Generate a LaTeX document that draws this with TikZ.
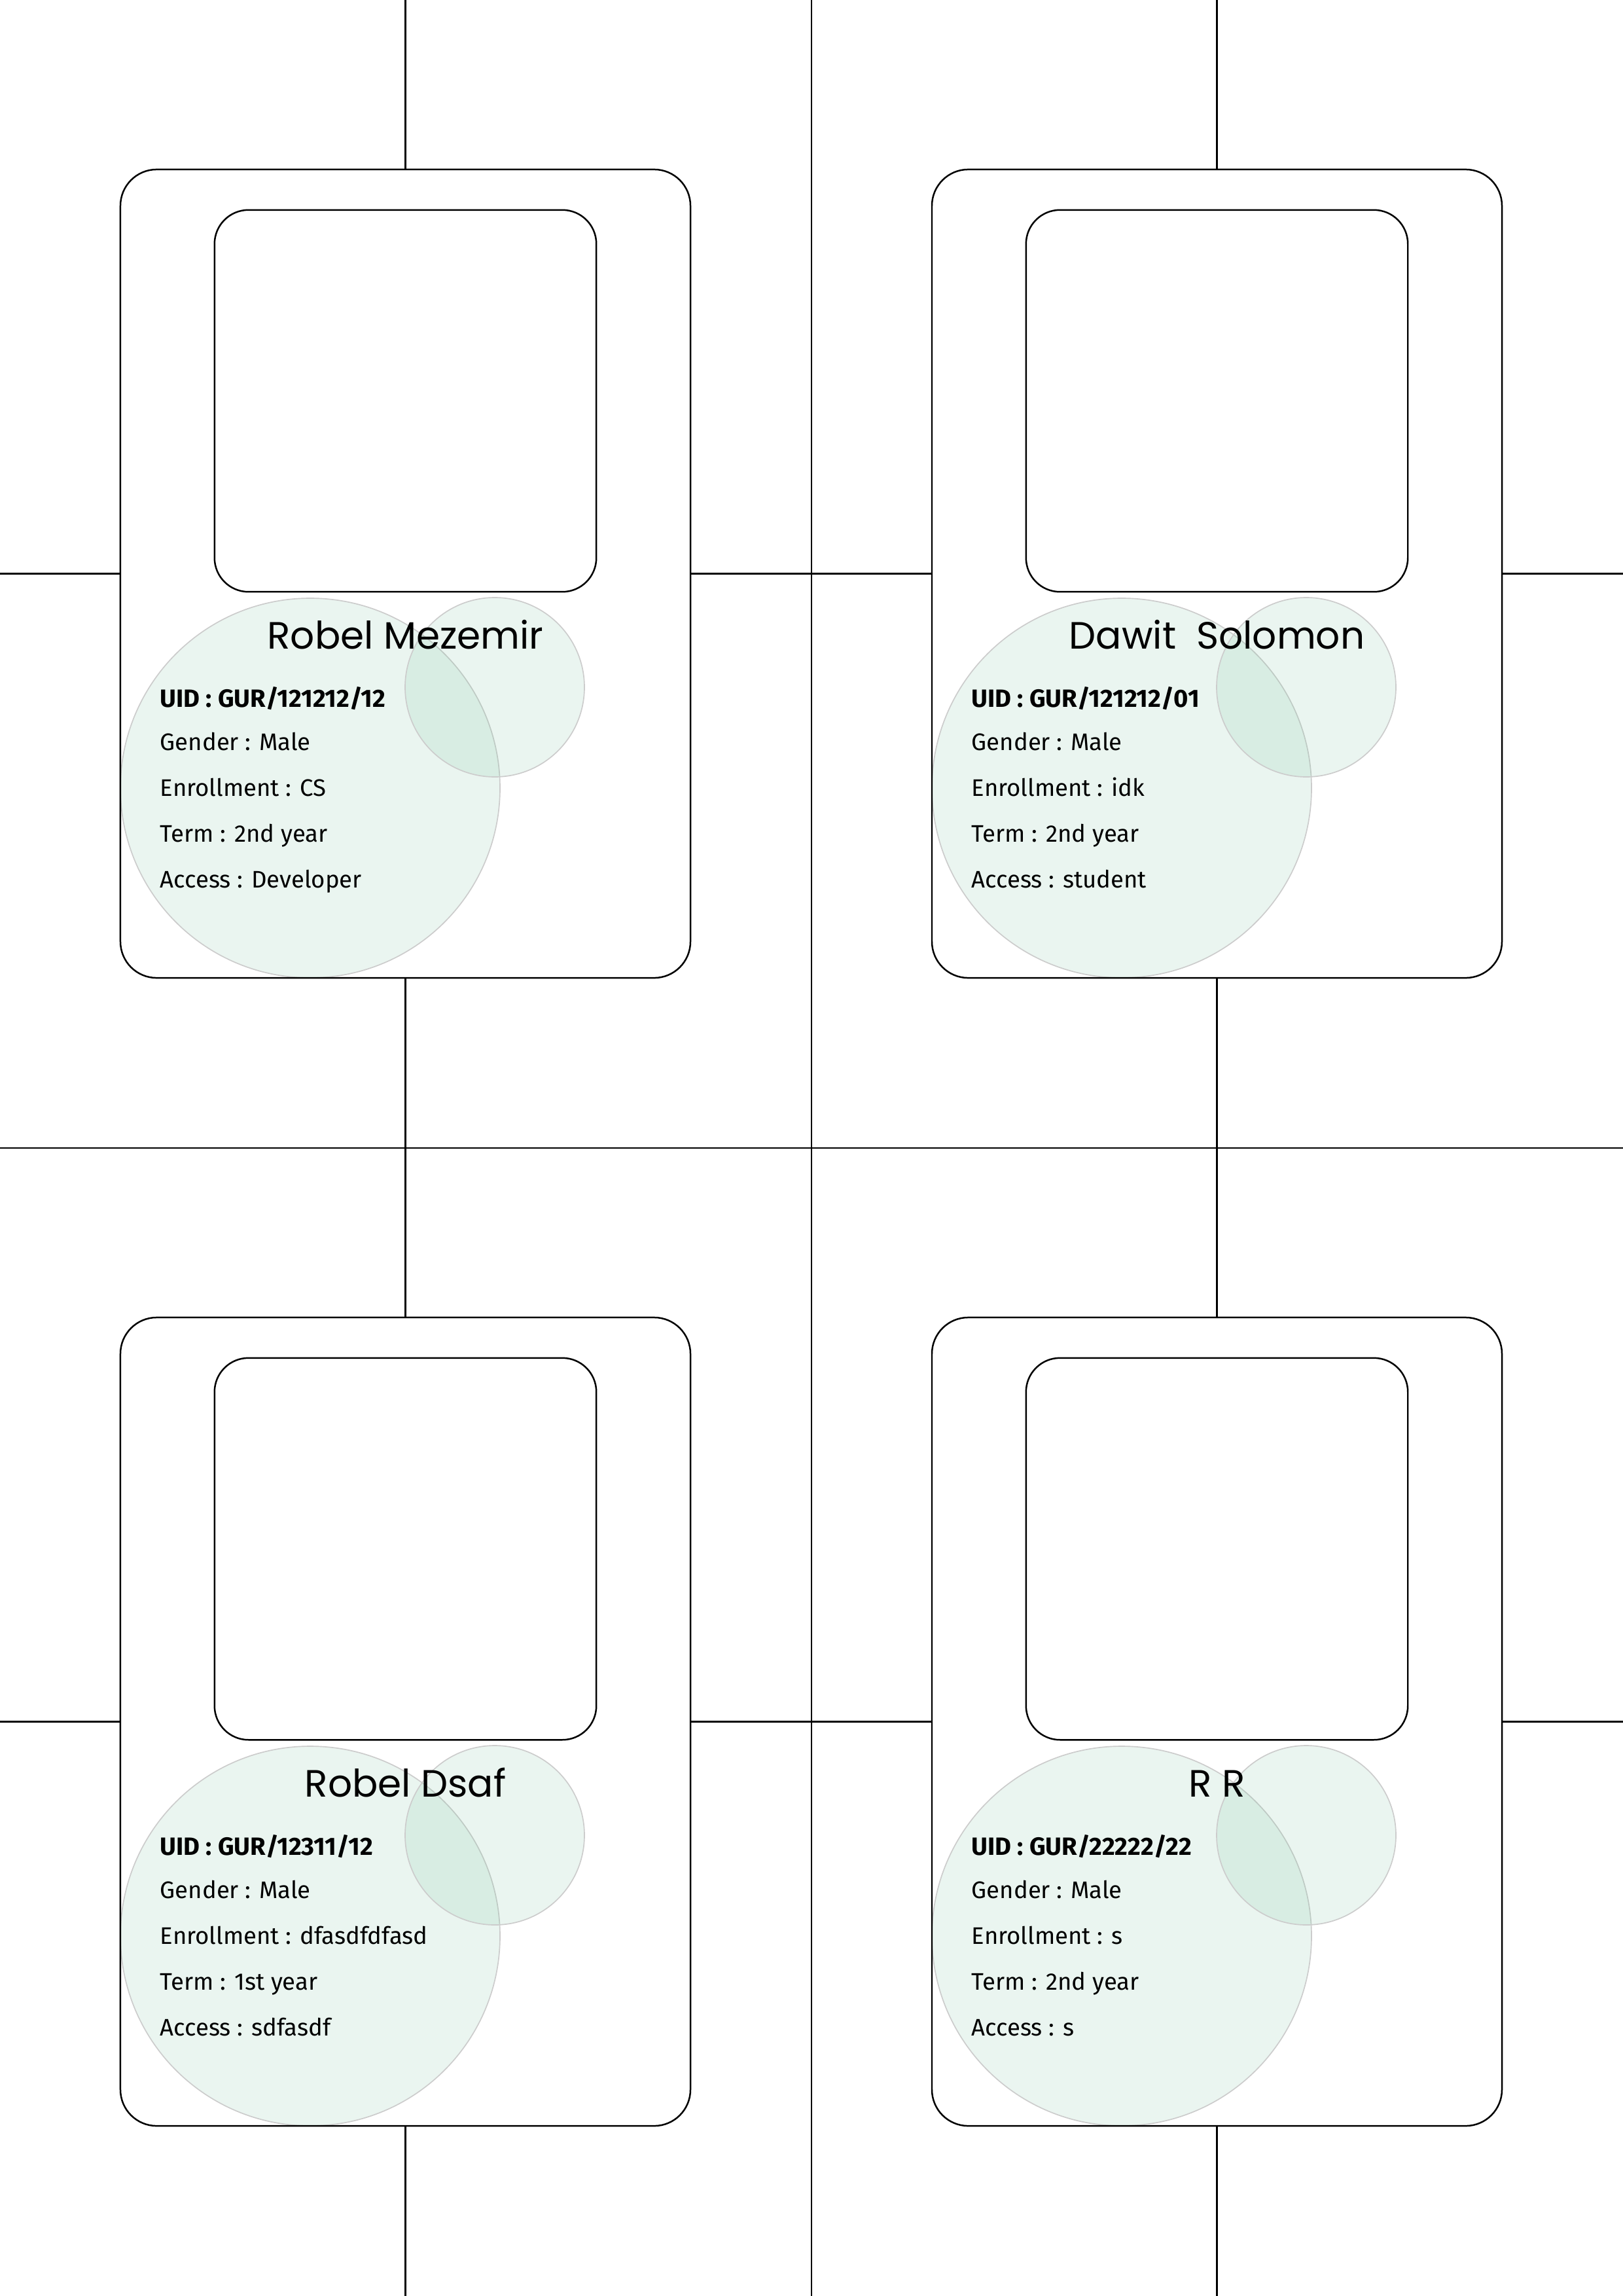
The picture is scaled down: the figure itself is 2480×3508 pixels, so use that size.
\documentclass[tikz,border=0pt]{standalone}
\usepackage{fontspec}
\setmainfont{Fira Sans}
\newfontfamily\namefont{Poppins}
\definecolor{blobgreen}{RGB}{110,190,150}
\tikzset{
  cardbox/.style={draw,line width=0.6pt,rounded corners=4.7mm,minimum width=73.75mm,minimum height=104.58mm,inner sep=0pt},
  photobox/.style={draw,line width=0.6pt,rounded corners=4.4mm,minimum width=49.4mm,minimum height=49.4mm,inner sep=0pt},
  blob/.style={fill=blobgreen,fill opacity=0.14,draw=black!20,line width=0.4pt},
  nametext/.style={font=\namefont\fontsize{14}{16}\selectfont,inner sep=0pt,anchor=base},
  infotext/.style={font=\fontsize{8.8}{10}\selectfont,inner sep=0pt,anchor=base west},
  uidtext/.style={infotext,font=\fontsize{9.2}{10}\selectfont\bfseries}
}

\begin{document}
\begin{tikzpicture}[x=0.0846774mm,y=-0.0846774mm]
   \useasboundingbox (0,0) rectangle (2480,3508);
   \fill[white] (0,0) rectangle (2480,3508);
   \coordinate (tl) at (0,0);
   \coordinate (mid) at (1240,1754);
   \coordinate (br) at (2480,3508);
   % one id card: tag, centre x, centre y, name, uid, gender, enrollment, term, access
   \def\idcard#1#2#3#4#5#6#7#8#9{
     \filldraw[blob] (#2-145.5,#3+327.5) circle (290);
     \filldraw[blob] (#2+136.5,#3+173.5) circle (137);
     \node[cardbox] (card#1) at (#2,#3) {};
     \node[photobox] (photo#1) at (#2,#3-264) {};
     \node[nametext] (name#1) at (#2,#3+114.5) {#4};
     \node[uidtext] (uid#1) at (#2-375.5,#3+203.5) {UID : #5};
     \node[infotext] (gender#1) at (#2-375.5,#3+270) {Gender : #6};
     \node[infotext] (enrol#1) at (#2-375.5,#3+340) {Enrollment : #7};
     \node[infotext] (term#1) at (#2-375.5,#3+409.5) {Term : #8};
     \node[infotext] (access#1) at (#2-375.5,#3+480) {Access : #9};
   }
   \idcard{1}{619.5}{876.5}{Robel Mezemir}{GUR/121212/12}{Male}{CS}{2nd year}{Developer}
   \idcard{2}{1859.5}{876.5}{Dawit\ \ Solomon}{GUR/121212/01}{Male}{idk}{2nd year}{student}
   \idcard{3}{619.5}{2630.5}{Robel Dsaf}{GUR/12311/12}{Male}{dfasdfdfasd}{1st year}{sdfasdf}
   \idcard{4}{1859.5}{2630.5}{R R}{GUR/22222/22}{Male}{s}{2nd year}{s}
   % cutting guides
   \draw[line width=0.6pt] (mid |- tl) -- (mid |- br);
   \draw[line width=0.6pt] (mid -| tl) -- (mid -| br);
   \foreach \c/\t/\b/\l/\r in {1/tl/mid/tl/mid, 2/tl/mid/mid/br, 3/mid/br/tl/mid, 4/mid/br/mid/br}
     \draw[line width=0.6pt] (card\c.north) -- (card\c.north |- \t) (card\c.south) -- (card\c.south |- \b)
                  (card\c.west) -- (card\c.west -| \l) (card\c.east) -- (card\c.east -| \r);
\end{tikzpicture}
\end{document}
